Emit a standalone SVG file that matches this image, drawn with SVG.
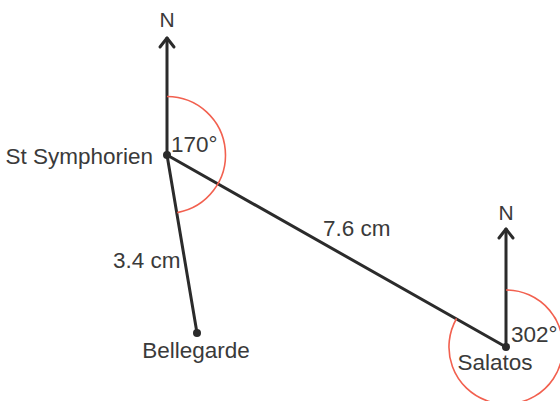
<svg xmlns="http://www.w3.org/2000/svg" width="560" height="401" viewBox="0 0 560 401">
<style>
.ln{stroke:#2b2b2b;stroke-width:3;fill:none;stroke-linecap:round;stroke-linejoin:round}
.arc{stroke:#f2604f;stroke-width:1.6;fill:none}
.dot{fill:#2b2b2b}
text{font-family:"Liberation Sans",Arial,sans-serif;font-size:22.5px;fill:#3a3a3a}
.n{font-size:21px}
</style>
<rect width="560" height="401" fill="#ffffff"/>
<g id="connectors">
<path class="ln" d="M167,155 L167,38"/>
<path class="ln" d="M160,47 L167,38 L174,47"/>
<path class="ln" d="M506,347 L506,229"/>
<path class="ln" d="M499,238 L506,229 L513,238"/>
<path class="ln" d="M167,155 L197,333"/>
<path class="ln" d="M167,155 L506,347"/>
</g>
<g id="angles">
<path class="arc" d="M167,96.5 A58.5,58.5 0 0 1 177.2,212.6"/>
<path class="arc" d="M506,290 A57,57 0 1 1 456.6,318.5"/>
</g>
<g id="st-symphorien">
<circle class="dot" cx="167" cy="155" r="4"/>
<text x="153" y="164" text-anchor="end">St Symphorien</text>
<text x="171" y="152">170°</text>
<text class="n" x="167" y="27" text-anchor="middle">N</text>
</g>
<g id="bellegarde">
<circle class="dot" cx="197" cy="333" r="4"/>
<text x="196" y="358" text-anchor="middle">Bellegarde</text>
</g>
<g id="salatos">
<circle class="dot" cx="506" cy="347" r="4"/>
<text x="495" y="370" text-anchor="middle">Salatos</text>
<text x="511" y="342">302°</text>
<text class="n" x="506" y="220" text-anchor="middle">N</text>
</g>
<g id="labels">
<text x="323" y="236">7.6 cm</text>
<text x="113" y="268">3.4 cm</text>
</g>
</svg>
